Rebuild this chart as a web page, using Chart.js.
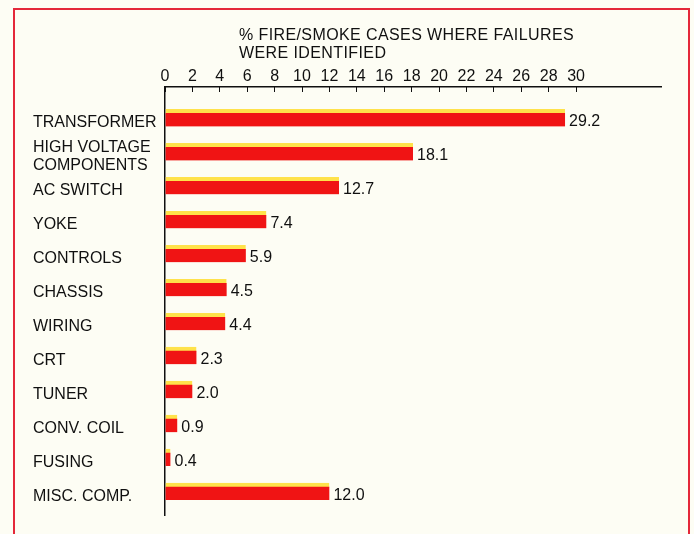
<!DOCTYPE html>
<html>
<head>
<meta charset="utf-8">
<script src="https://cdn.jsdelivr.net/npm/chart.js@4.4.1/dist/chart.umd.min.js"></script>
<style>
    html, body { margin: 0; padding: 0; background: #fdfdf4; }
    #wrap { position: relative; width: 694px; height: 534px; overflow: hidden; }
    #frame {
        position: absolute; left: 13px; top: 8px; width: 677px; height: 560px;
        border: 2px solid #e4283a; box-sizing: border-box;
    }
    canvas { position: absolute; left: 0; top: 0; }
</style>
</head>
<body>
<div id="wrap">
    <div id="frame"></div>
    <canvas id="failChart" width="694" height="534"></canvas>
</div>
<script>
const categories = [
    'TRANSFORMER', ['HIGH VOLTAGE', 'COMPONENTS'], 'AC SWITCH', 'YOKE', 'CONTROLS',
    'CHASSIS', 'WIRING', 'CRT', 'TUNER', 'CONV. COIL', 'FUSING', 'MISC. COMP.'
];
const percents = [29.2, 18.1, 12.7, 7.4, 5.9, 4.5, 4.4, 2.3, 2.0, 0.9, 0.4, 12.0];
const xTicks = [0, 2, 4, 6, 8, 10, 12, 14, 16, 18, 20, 22, 24, 26, 28, 30];
const titleLines = ['% FIRE/SMOKE CASES WHERE FAILURES', 'WERE IDENTIFIED'];

const FONT = '"Liberation Sans", Arial, sans-serif';
const INK = '#101010';

// value text next to each bar, plus the two-line heading over the axis
const annotate = {
    id: 'annotate',
    afterDatasetsDraw(chart) {
        const ctx = chart.ctx;
        const meta = chart.getDatasetMeta(0);
        ctx.save();
        ctx.fillStyle = INK;
        ctx.font = '16px ' + FONT;
        ctx.textAlign = 'left';
        ctx.textBaseline = 'middle';
        meta.data.forEach((bar, i) => {
            ctx.fillText(percents[i].toFixed(1), bar.x + 4, bar.y + 4);
        });
        ctx.textBaseline = 'top';
        ctx.letterSpacing = '0.4px';
        titleLines.forEach((line, i) => ctx.fillText(line, 239, 28 + i * 18));
        ctx.restore();
    }
};

new Chart(document.getElementById('failChart'), {
    type: 'bar',
    data: {
        datasets: [{
            data: percents.map((v, i) => ({ x: v, y: i })),
            backgroundColor: '#f01414',
            borderColor: '#ffe24a',
            borderWidth: { top: 4, right: 0, bottom: 0, left: 0 },
            borderSkipped: false,
            barThickness: 17
        }]
    },
    options: {
        indexAxis: 'y',
        responsive: false,
        animation: false,
        layout: { padding: { left: 33, right: 33, top: 0, bottom: 19 } },
        plugins: { legend: { display: false }, tooltip: { enabled: false } },
        scales: {
            x: {
                type: 'linear',
                position: 'top',
                min: 0,
                max: 36.2,
                afterBuildTicks: scale => { scale.ticks = xTicks.map(v => ({ value: v })); },
                afterFit: scale => { scale.height = 87; },
                ticks: { color: INK, font: { family: FONT, size: 16 }, padding: 6, maxRotation: 0, autoSkip: false },
                grid: { drawOnChartArea: false, tickLength: -5, color: INK, lineWidth: 1 },
                border: { color: INK, width: 1.5 }
            },
            y: {
                type: 'linear',
                reverse: true,
                offset: false,
                min: -0.91,
                max: 11.69,
                afterBuildTicks: scale => { scale.ticks = categories.map((c, i) => ({ value: i })); },
                afterFit: scale => { scale.width = 132; },
                ticks: {
                    color: INK,
                    font: { family: FONT, size: 16, lineHeight: 1.1 },
                    crossAlign: 'far',
                    labelOffset: 5,
                    autoSkip: false,
                    callback: v => categories[v]
                },
                grid: { display: false, offset: false },
                border: { color: INK, width: 1.5 }
            }
        }
    },
    plugins: [annotate]
});
</script>
</body>
</html>
